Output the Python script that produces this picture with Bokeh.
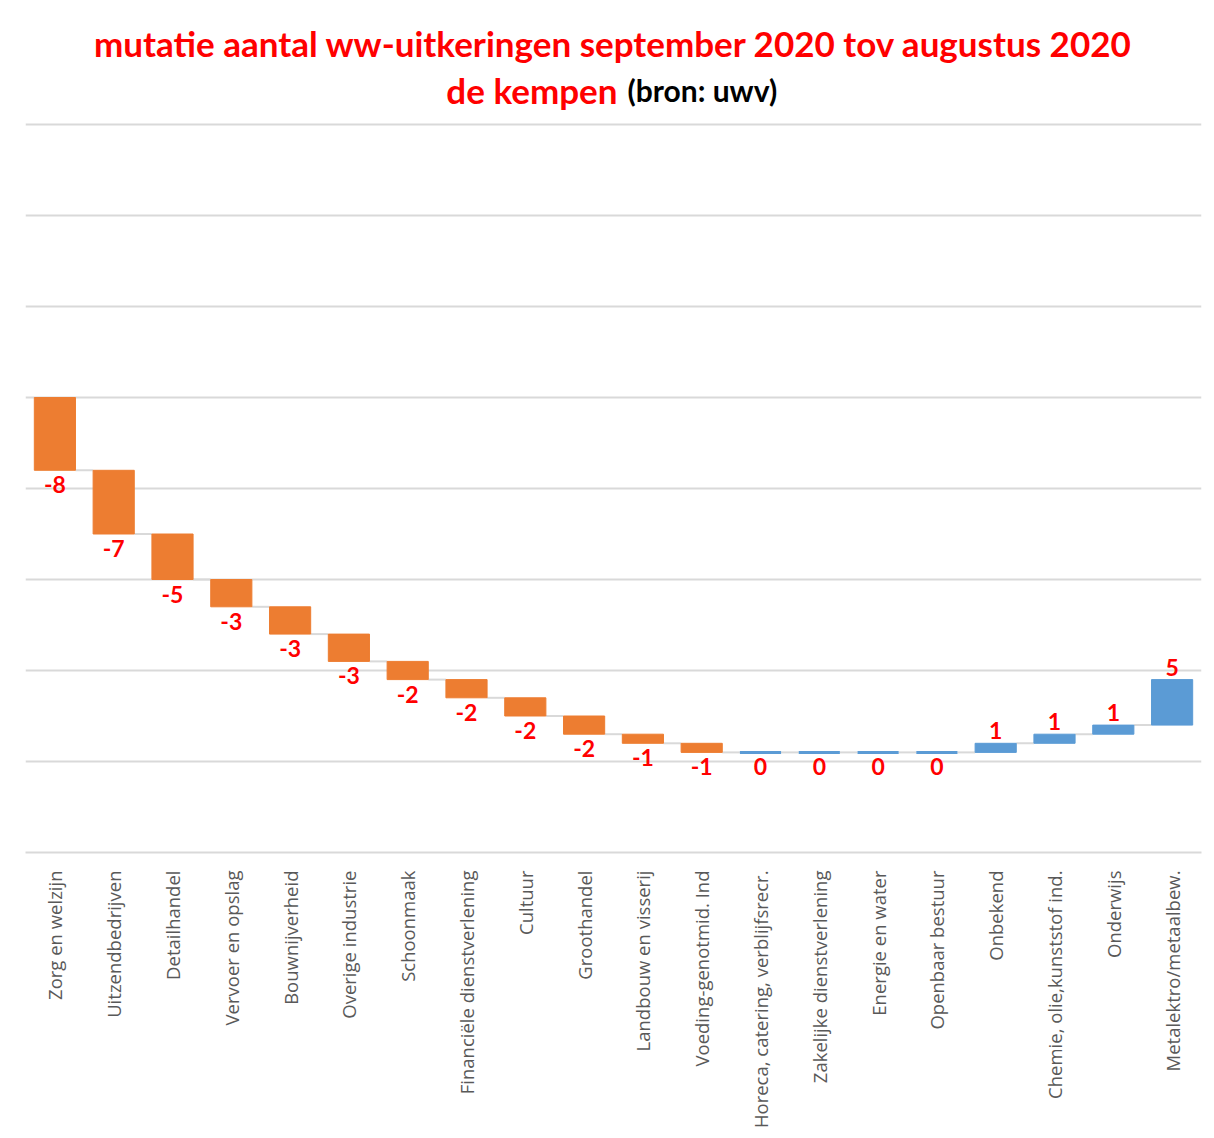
import numpy as np
from bokeh.plotting import figure
from bokeh.models import ColumnDataSource, Range1d, FixedTicker, Label
from bokeh.transform import dodge
from bokeh.core.properties import value
from bokeh.embed import file_html
from bokeh.resources import INLINE

categories = ["Zorg en welzijn", "Uitzendbedrijven", "Detailhandel", "Vervoer en opslag",
              "Bouwnijverheid", "Overige industrie", "Schoonmaak", "Financiële dienstverlening",
              "Cultuur", "Groothandel", "Landbouw en visserij", "Voeding-genotmid. Ind",
              "Horeca, catering, verblijfsrecr.", "Zakelijke dienstverlening", "Energie en water",
              "Openbaar bestuur", "Onbekend", "Chemie, olie,kunststof ind.", "Onderwijs",
              "Metalektro/metaalbew."]
changes = [-8, -7, -5, -3, -3, -3, -2, -2, -2, -2, -1, -1, 0, 0, 0, 0, 1, 1, 1, 5]
grid_values = [-50, -40, -30, -20, -10, 0, 10, 20, 30]

ORANGE = "#ED7D31"
BLUE = "#5B9BD5"
GRID = "#D9D9D9"
RED = "#FF0000"

vals = np.array(changes, dtype=float)
end = np.cumsum(vals)
start = end - vals

PX_PER_UNIT = 9.1
FRAME_TOP_PAD = 124  # space above the top gridline for the title
y_top = grid_values[-1] + FRAME_TOP_PAD / PX_PER_UNIT

p = figure(x_range=categories, y_range=Range1d(grid_values[0], y_top), width=1206, height=1136,
           output_backend="svg", toolbar_location=None,
           min_border_left=25, min_border_right=5, min_border_top=0, min_border_bottom=284)
p.outline_line_color = None
p.background_fill_color = "white"

# connectors
con_src = ColumnDataSource(dict(a=categories[:-1], b=categories[1:], y=end[:-1]))
p.segment(x0=dodge("a", 0.35, range=p.x_range), x1=dodge("b", -0.35, range=p.x_range),
          y0="y", y1="y", source=con_src, line_color=GRID, line_width=2)

# bars
nz = vals != 0
bar_src = ColumnDataSource(dict(
    x=[c for c, k in zip(categories, nz) if k],
    top=start[nz], bottom=end[nz],
    color=[ORANGE if v < 0 else BLUE for v in vals[nz]],
))
p.vbar(x="x", top="top", bottom="bottom", width=0.7, source=bar_src,
       fill_color="color", line_color="color", line_width=1)
zero_src = ColumnDataSource(dict(a=[c for c, k in zip(categories, nz) if not k], y=end[~nz]))
p.segment(x0=dodge("a", -0.35, range=p.x_range), x1=dodge("a", 0.35, range=p.x_range),
          y0="y", y1="y", source=zero_src, line_color=BLUE, line_width=3)

# value labels
down = vals <= 0
lab_dn = ColumnDataSource(dict(x=[c for c, k in zip(categories, down) if k], y=end[down],
                               t=["%d" % v for v in vals[down]]))
lab_up = ColumnDataSource(dict(x=[c for c, k in zip(categories, down) if not k], y=end[~down],
                               t=["%d" % v for v in vals[~down]]))
p.text(x="x", y="y", text="t", source=lab_dn, text_align="center", text_baseline="top",
       y_offset=6, text_color=RED, text_font=value("Lato"), text_font_style="bold",
       text_font_size="23px")
p.text(x="x", y="y", text="t", source=lab_up, text_align="center", text_baseline="bottom",
       y_offset=-4, text_color=RED, text_font=value("Lato"), text_font_style="bold",
       text_font_size="23px")

# axes & grid
p.yaxis.visible = False
p.ygrid.ticker = FixedTicker(ticks=grid_values)
p.ygrid.grid_line_color = GRID
p.ygrid.grid_line_width = 2
p.xgrid.grid_line_color = None
p.xaxis.axis_line_color = GRID
p.xaxis.axis_line_width = 2
p.xaxis.major_tick_line_color = None
p.xaxis.minor_tick_line_color = None
p.xaxis.major_tick_out = 0
p.xaxis.major_label_standoff = 18
p.xaxis.major_label_orientation = np.pi / 2
p.xaxis.major_label_text_font = "Open Sans"
p.xaxis.major_label_text_font_size = "18.5px"
p.xaxis.major_label_text_color = "#595959"

# title (inside the frame, above the top gridline)
p.add_layout(Label(x=588, y=810, x_units="screen", y_units="screen",
                   text="mutatie aantal ww-uitkeringen september 2020 tov augustus 2020",
                   text_align="center", text_baseline="alphabetic", text_color=RED,
                   text_font="Lato", text_font_style="bold", text_font_size="35px"))
p.add_layout(Label(x=592, y=763, x_units="screen", y_units="screen", text="de kempen",
                   text_align="right", text_baseline="alphabetic", text_color=RED,
                   text_font="Lato", text_font_style="bold", text_font_size="35px"))
p.add_layout(Label(x=602, y=763, x_units="screen", y_units="screen", text="(bron: uwv)",
                   text_align="left", text_baseline="alphabetic", text_color="black",
                   text_font="Lato", text_font_style="bold", text_font_size="30px"))

open("out.html", "w").write(file_html(p, INLINE))
